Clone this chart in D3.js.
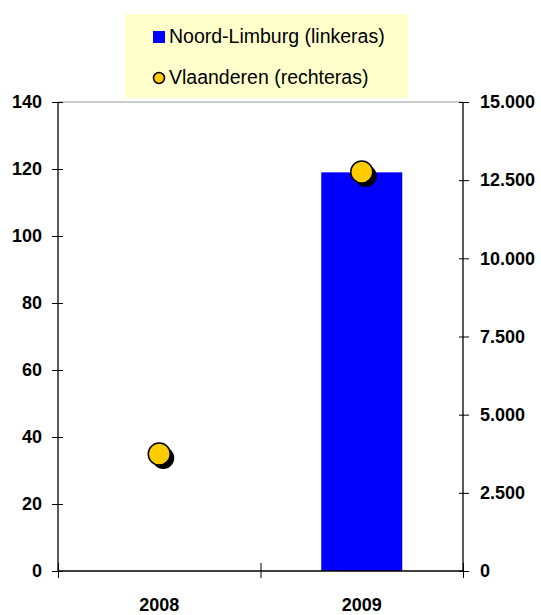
<!DOCTYPE html>
<html>
<head>
<meta charset="utf-8">
<script src="https://cdn.jsdelivr.net/npm/d3@7"></script>
<style>
  body { margin: 0; background: #fff; }
  text { font-family: "Liberation Sans", Arial, sans-serif; }
</style>
</head>
<body>
<div id="graph"></div>
<script>
// data
var years = ["2008", "2009"];
var noordLimburg = [null, 119];     // linkeras
var vlaanderen = [3740, 12760];     // rechteras
var leftTicks = [0, 20, 40, 60, 80, 100, 120, 140];
var rightTicks = [0, 2500, 5000, 7500, 10000, 12500, 15000];

var margin = {top: 102, right: 78, bottom: 44, left: 58},
    width = 541 - margin.left - margin.right,
    height = 615 - margin.top - margin.bottom;

var nl = d3.formatLocale({decimal: ",", thousands: ".", grouping: [3], currency: ["€", ""]});
var fmt = nl.format(",");

var x = d3.scaleBand().domain(years).range([0, width]).paddingInner(0.6).paddingOuter(0.3);
var xPoint = function(d) { return x(d) + x.bandwidth() / 2; };
var yL = d3.scaleLinear().domain([0, 140]).range([height, 0]);
var yR = d3.scaleLinear().domain([0, 15000]).range([height, 0]);

var svg = d3.select("#graph").append("svg")
    .attr("width", 541)
    .attr("height", 615);

// legend
var legend = svg.append("g");
legend.append("rect")
    .attr("x", 125).attr("y", 14)
    .attr("width", 283).attr("height", 84)
    .attr("fill", "#ffffcc");
legend.append("rect")
    .attr("x", 153).attr("y", 31)
    .attr("width", 12).attr("height", 12)
    .attr("fill", "#0000ff");
legend.append("text")
    .attr("x", 169).attr("y", 43)
    .attr("font-size", "19.5px")
    .text("Noord-Limburg (linkeras)");
legend.append("circle")
    .attr("cx", 159).attr("cy", 78).attr("r", 5.5)
    .attr("fill", "#ffcc00").attr("stroke", "#000").attr("stroke-width", 1.5);
legend.append("text")
    .attr("x", 169).attr("y", 84)
    .attr("font-size", "19.5px")
    .text("Vlaanderen (rechteras)");

var g = svg.append("g")
    .attr("transform", "translate(" + margin.left + "," + margin.top + ")");

// top border
g.append("line")
    .attr("x1", 0).attr("x2", width)
    .attr("y1", 0).attr("y2", 0)
    .attr("stroke", "#999").attr("stroke-width", 1);

// bars
g.selectAll(".bar")
    .data(years.map(function(d, i) { return {year: d, v: noordLimburg[i]}; }).filter(function(d) { return d.v != null; }))
  .enter().append("rect")
    .attr("class", "bar")
    .attr("x", function(d) { return x(d.year); })
    .attr("width", x.bandwidth())
    .attr("y", function(d) { return yL(d.v); })
    .attr("height", function(d) { return height - yL(d.v); })
    .attr("fill", "#0000ff");

// left axis
var axL = g.append("g")
    .call(d3.axisLeft(yL).tickValues(leftTicks).tickSize(6).tickPadding(10).tickFormat(d3.format("d")));
// right axis
var axR = g.append("g")
    .attr("transform", "translate(" + width + ",0)")
    .call(d3.axisRight(yR).tickValues(rightTicks).tickSize(6).tickPadding(11).tickFormat(fmt));
// x axis
var axX = g.append("g")
    .attr("transform", "translate(0," + height + ")")
    .call(d3.axisBottom(d3.scaleLinear().domain([0, 2]).range([0, width])).tickValues([0, 1, 2]).tickSize(7).tickFormat(""));

[axL, axR, axX].forEach(function(a) {
  a.select(".domain").attr("stroke", "#000").attr("stroke-width", 1.3);
  a.selectAll(".tick line").attr("stroke", "#000").attr("stroke-width", 1);
  a.selectAll(".tick text")
      .attr("font-family", "'Liberation Sans', Arial, sans-serif")
      .attr("font-size", "18px")
      .attr("font-weight", "bold")
      .attr("fill", "#000");
});
// ticks crossing the axes
axL.selectAll(".tick line").attr("x2", -6).attr("x1", 5);
axR.selectAll(".tick line").attr("x1", -4);
axX.selectAll(".tick line").attr("y1", -8).attr("y2", 7);
axX.select(".domain").attr("d", "M0,0H" + width);
axL.select(".domain").attr("d", "M0,0V" + height);
axR.select(".domain").attr("d", "M0,0V" + height);

// x labels
g.selectAll(".xlab")
    .data(years)
  .enter().append("text")
    .attr("class", "xlab")
    .attr("x", function(d) { return xPoint(d); })
    .attr("y", height + 40)
    .attr("text-anchor", "middle")
    .attr("font-size", "18px")
    .attr("font-weight", "bold")
    .text(function(d) { return d; });

// points with shadow
var pts = years.map(function(d, i) { return {year: d, v: vlaanderen[i]}; });
g.selectAll(".shadow")
    .data(pts)
  .enter().append("circle")
    .attr("cx", function(d) { return xPoint(d.year) + 4; })
    .attr("cy", function(d) { return yR(d.v) + 4; })
    .attr("r", 11)
    .attr("fill", "#000");
g.selectAll(".dot")
    .data(pts)
  .enter().append("circle")
    .attr("cx", function(d) { return xPoint(d.year); })
    .attr("cy", function(d) { return yR(d.v); })
    .attr("r", 11)
    .attr("fill", "#ffcc00")
    .attr("stroke", "#000")
    .attr("stroke-width", 1.5);
</script>
</body>
</html>
